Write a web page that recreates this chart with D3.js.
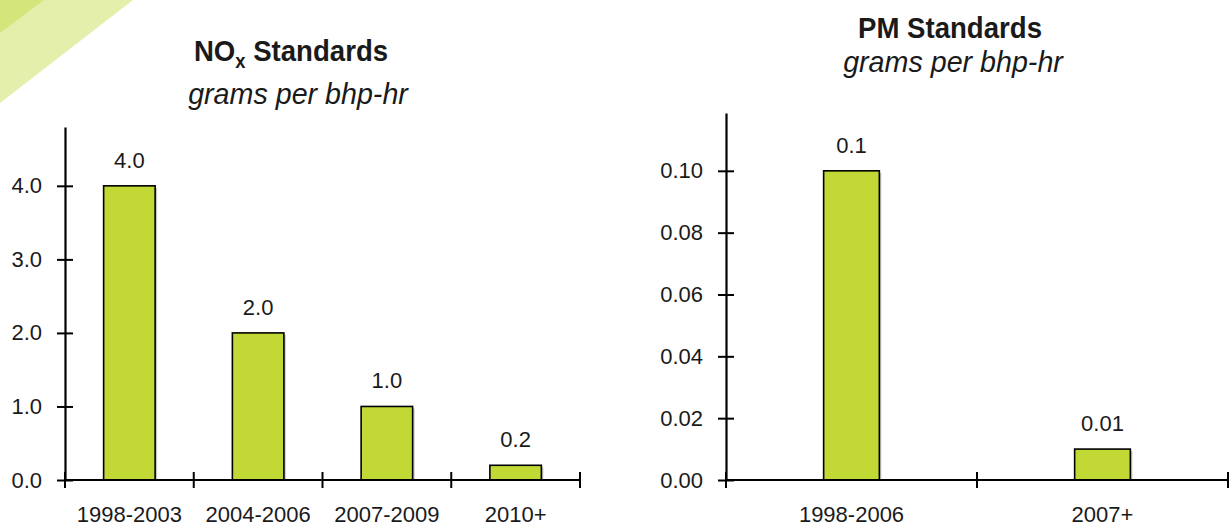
<!DOCTYPE html>
<html>
<head>
<meta charset="utf-8">
<script src="https://cdn.jsdelivr.net/npm/d3@7"></script>
<style>
  html, body { margin: 0; padding: 0; background: #fff; }
  svg { display: block; }
  text { font-family: "Liberation Sans", Arial, sans-serif; fill: #1a1a1a; }
</style>
</head>
<body>
<svg id="chart" width="1230" height="529"></svg>
<script>
// NOx standards (grams per bhp-hr)
const noxCategories = ["1998-2003", "2004-2006", "2007-2009", "2010+"];
const noxValues = [4.0, 2.0, 1.0, 0.2];
const noxTicks = [0, 1, 2, 3, 4];

// PM standards (grams per bhp-hr)
const pmCategories = ["1998-2006", "2007+"];
const pmValues = [0.1, 0.01];
const pmTicks = [0, 0.02, 0.04, 0.06, 0.08, 0.10];

const svg = d3.select("#chart");
const barFill = "#c2d834";

// decorative corner swoosh
const deco = svg.append("g");
deco.append("path")
  .attr("d", "M0,0 L133,0 L0,103 Z")
  .attr("fill", "#e3efab");
deco.append("path")
  .attr("d", "M0,0 L44,0 L0,33 Z")
  .attr("fill", "#d4e57c");

function drawPanel(opts) {
  const g = svg.append("g");
  const [x0, x1] = opts.xRange;
  const [yBottom, yTop] = opts.yRange;

  const x = d3.scaleBand()
    .domain(opts.categories)
    .range([x0, x1])
    .paddingInner(opts.padInner)
    .paddingOuter(opts.padInner / 2);

  const y = d3.scaleLinear()
    .domain([0, opts.yMax])
    .range([yBottom, yTop]);

  // bars with a faint drop shadow
  const data = opts.categories.map((c, i) => ({ c, v: opts.values[i] }));
  g.selectAll("rect.shadow").data(data).join("rect")
    .attr("class", "shadow")
    .attr("x", d => x(d.c) + 2)
    .attr("y", d => y(d.v) + 2)
    .attr("width", x.bandwidth())
    .attr("height", d => y(0) - y(d.v) - 2)
    .attr("fill", "#c8c8c8");
  g.selectAll("rect.bar").data(data).join("rect")
    .attr("class", "bar")
    .attr("x", d => x(d.c))
    .attr("y", d => y(d.v))
    .attr("width", x.bandwidth())
    .attr("height", d => y(0) - y(d.v))
    .attr("fill", barFill)
    .attr("stroke", "#000")
    .attr("stroke-width", 1.6);

  // value labels
  g.selectAll("text.val").data(data).join("text")
    .attr("class", "val")
    .attr("x", d => x(d.c) + x.bandwidth() / 2)
    .attr("y", d => y(d.v) - 18)
    .attr("text-anchor", "middle")
    .style("font-size", "22px")
    .text(d => opts.valueFormat(d.v));

  // y axis: ticks cross the axis line
  const yAxis = d3.axisLeft(y)
    .tickValues(opts.ticks)
    .tickFormat(opts.tickFormat)
    .tickSizeInner(8)
    .tickSizeOuter(0)
    .tickPadding(15);
  const ya = g.append("g")
    .attr("transform", `translate(${x0},0)`)
    .call(yAxis);
  ya.select(".domain").attr("stroke", "#000").attr("stroke-width", 2.2);
  ya.selectAll(".tick line").attr("x1", 8).attr("stroke", "#000").attr("stroke-width", 2);
  ya.selectAll(".tick text")
    .style("font-size", "22px")
    .style("font-family", "'Liberation Sans', Arial, sans-serif")
    .attr("fill", "#1a1a1a");

  // x axis line with boundary ticks between categories
  g.append("line")
    .attr("x1", x0 - 1).attr("x2", x1)
    .attr("y1", y(0)).attr("y2", y(0))
    .attr("stroke", "#000").attr("stroke-width", 2.2);
  const bounds = d3.range(opts.categories.length + 1).map(i => x0 + i * x.step());
  g.selectAll("line.xt").data(bounds).join("line")
    .attr("class", "xt")
    .attr("x1", d => d).attr("x2", d => d)
    .attr("y1", y(0) - 8).attr("y2", y(0) + 8)
    .attr("stroke", "#000").attr("stroke-width", 2);

  // category labels
  g.selectAll("text.cat").data(opts.categories).join("text")
    .attr("class", "cat")
    .attr("x", d => x(d) + x.bandwidth() / 2)
    .attr("y", yBottom + 42)
    .attr("text-anchor", "middle")
    .style("font-size", "22px")
    .text(d => d);

  // titles (slightly condensed)
  const t = g.append("text")
    .attr("transform", `translate(${opts.titleX},${opts.titleY}) scale(0.92,1)`)
    .attr("text-anchor", "middle")
    .style("font-size", "30px")
    .style("font-weight", "bold");
  opts.title(t);
  g.append("text")
    .attr("transform", `translate(${opts.subX},${opts.subY}) scale(0.955,1)`)
    .attr("text-anchor", "middle")
    .style("font-size", "30px")
    .style("font-style", "italic")
    .text("grams per bhp-hr");
}

drawPanel({
  categories: noxCategories,
  values: noxValues,
  ticks: noxTicks,
  yMax: 4.8,
  xRange: [65, 580],
  yRange: [480, 127],
  padInner: 0.6,
  tickFormat: d3.format(".1f"),
  valueFormat: d3.format(".1f"),
  titleX: 291, titleY: 61, subX: 298, subY: 104,
  title: t => {
    t.append("tspan").text("NO");
    t.append("tspan").attr("dy", 7).style("font-size", "20px").text("x");
    t.append("tspan").attr("dy", -7).text(" Standards");
  }
});

drawPanel({
  categories: pmCategories,
  values: pmValues,
  ticks: pmTicks,
  yMax: 0.1187,
  xRange: [726, 1228],
  yRange: [480, 113],
  padInner: 0.778,
  tickFormat: d3.format(".2f"),
  valueFormat: d3.format("~g"),
  titleX: 950, titleY: 38, subX: 953, subY: 72,
  title: t => t.text("PM Standards")
});
</script>
</body>
</html>
